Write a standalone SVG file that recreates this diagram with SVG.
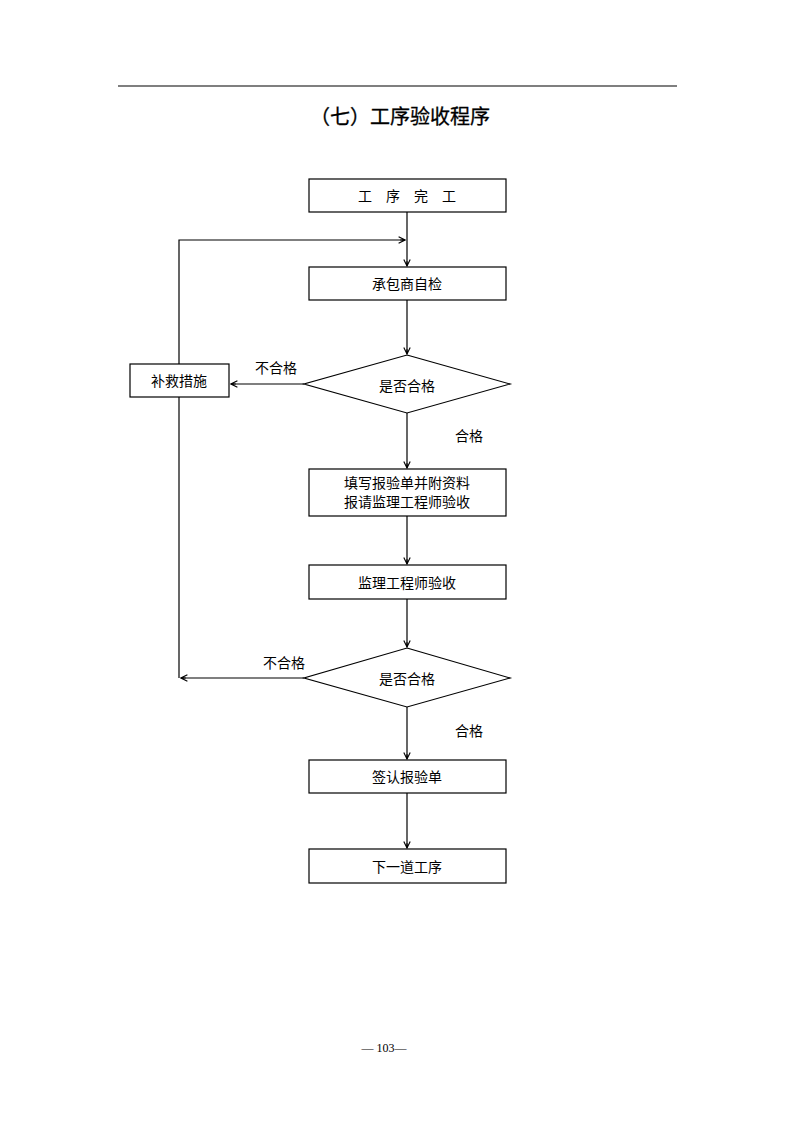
<svg xmlns="http://www.w3.org/2000/svg" width="794" height="1123" viewBox="0 0 794 1123">
<style>
.box{fill:#fff;stroke:#000;stroke-width:1.2}
.t{font-family:"Noto Sans CJK SC","Noto Sans CJK JP",sans-serif;font-size:14px;fill:#000;text-anchor:middle}
.c{fill:none;stroke:#000;stroke-width:1.2}
</style>
<defs>
<marker id="a" viewBox="0 0 10 10" refX="9" refY="5" markerWidth="8" markerHeight="8" orient="auto" markerUnits="userSpaceOnUse">
<path d="M1,1 L9,5 L1,9 M3,5 L9,5" fill="none" stroke="#000" stroke-width="1.4"/>
</marker>
</defs>
<rect width="794" height="1123" fill="#fff"/>
<line x1="118" y1="86" x2="677" y2="86" stroke="#000" stroke-width="1.2"/>
<text x="400" y="124" font-family="Noto Sans CJK SC,sans-serif" font-size="20" font-weight="normal" stroke="#000" stroke-width="0.3" text-anchor="middle">（七）工序验收程序</text>
<g id="connectors">
<line class="c" x1="407" y1="212" x2="407" y2="266" marker-end="url(#a)"/>
<polyline class="c" points="179,364 179,240 405,240" marker-end="url(#a)"/>
<line class="c" x1="407" y1="300" x2="407" y2="354" marker-end="url(#a)"/>
<line class="c" x1="304" y1="384" x2="231" y2="384" marker-end="url(#a)"/>
<line class="c" x1="407" y1="413" x2="407" y2="468" marker-end="url(#a)"/>
<line class="c" x1="407" y1="516" x2="407" y2="564" marker-end="url(#a)"/>
<line class="c" x1="407" y1="599" x2="407" y2="647" marker-end="url(#a)"/>
<line class="c" x1="179" y1="397" x2="179" y2="678"/>
<line class="c" x1="304" y1="678" x2="181" y2="678" stroke-width="2" marker-end="url(#a)"/>
<line class="c" x1="407" y1="707" x2="407" y2="759" marker-end="url(#a)"/>
<line class="c" x1="407" y1="793" x2="407" y2="848" marker-end="url(#a)"/>
<text class="t" x="276" y="373">不合格</text>
<text class="t" x="469" y="441">合格</text>
<text class="t" x="284" y="668">不合格</text>
<text class="t" x="469" y="736">合格</text>
</g>
<g id="n1"><rect class="box" x="309" y="179" width="197" height="33"/><text class="t" x="407" y="201">工　序　完　工</text></g>
<g id="n2"><rect class="box" x="309" y="267" width="197" height="33"/><text class="t" x="407" y="289">承包商自检</text></g>
<g id="d1"><polygon class="box" points="407,355 510,384 407,413 304,384"/><text class="t" x="407" y="391">是否合格</text></g>
<g id="n3"><rect class="box" x="130" y="364" width="99" height="33"/><text class="t" x="179" y="386">补救措施</text></g>
<g id="n4"><rect class="box" x="309" y="469" width="197" height="47"/><text class="t" x="407" y="488">填写报验单并附资料</text><text class="t" x="407" y="507">报请监理工程师验收</text></g>
<g id="n5"><rect class="box" x="309" y="565" width="197" height="34"/><text class="t" x="407" y="588">监理工程师验收</text></g>
<g id="d2"><polygon class="box" points="407,648 510,678 407,707 304,678"/><text class="t" x="407" y="684">是否合格</text></g>
<g id="n6"><rect class="box" x="309" y="760" width="197" height="33"/><text class="t" x="407" y="782">签认报验单</text></g>
<g id="n7"><rect class="box" x="309" y="849" width="197" height="34"/><text class="t" x="407" y="872">下一道工序</text></g>
<text x="384" y="1052" font-family="Liberation Serif,serif" font-size="12" text-anchor="middle">— 103—</text>
</svg>
